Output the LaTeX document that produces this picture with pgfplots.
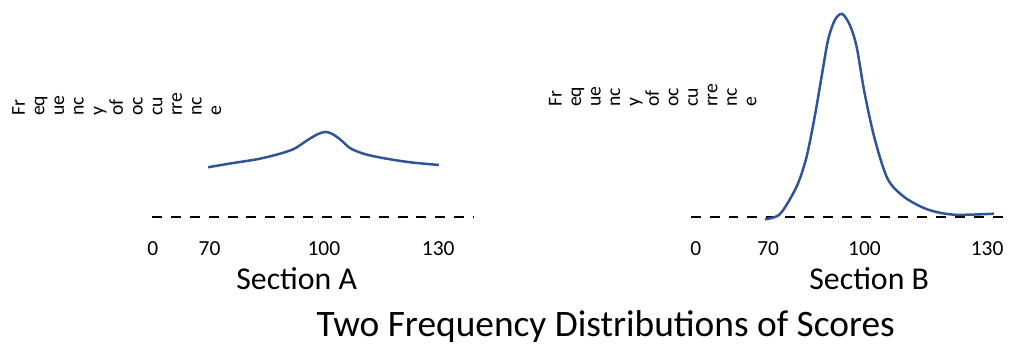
\documentclass[border=0pt]{standalone}
\usepackage{pgfplots}
\pgfplotsset{compat=1.18}
\usepackage{fontspec}
\setmainfont{Carlito}
\definecolor{curveblue}{RGB}{47,85,151}

% Left section: frequency above the baseline against score
\pgfplotstableread{
x y
69.6 50.2
75.7 54.2
82.8 58.5
88.8 64.2
92.4 69.2
95.8 77.8
98.4 83.5
100.4 85.8
102.3 83.5
104.4 77.8
107.0 69.2
110.7 63.5
115.9 59.2
122.7 55.2
130.2 52.5
}\sectionA

% Right section
\pgfplotstableread{
x y
69.7 -2.2
73.2 1.8
75.8 15.2
78.5 35.2
80.7 61.8
82.8 101.8
84.6 141.8
86.3 178.5
88.1 198.5
90.0 204.5
92.0 193.5
93.8 171.8
95.9 125.2
98.6 78.5
102.0 38.5
106.4 20.2
112.5 7.8
119.5 2.5
130.0 3.5
}\sectionB

\pgfplotsset{
  freqpanel/.style={
    anchor=south west,
    y=0.5pt, ymin=0, ymax=210,
    axis x line=bottom,
    axis y line=none,
    x axis line style={-, black, line width=1.2pt, dash pattern=on 5pt off 4.5pt},
    major tick length=0pt,
    xticklabels={0,70,100,130},
    xticklabel style={font=\fontsize{10.8}{13}\selectfont, anchor=base, yshift=-19.5pt},
    /pgf/number format/assume math mode=true,
    clip=false,
  },
}

\begin{document}
\begin{tikzpicture}
\path (0,0) rectangle (505pt,174pt);

\begin{axis}[freqpanel, at={(76.5pt,64.75pt)},
  x=1.9167pt, xmin=54.9, xmax=139.4,
  xtick={55.1,70,100,130}]
\addplot[curveblue, line width=1.25pt, smooth] table[x=x,y=y] {\sectionA};
\end{axis}

\begin{axis}[freqpanel, at={(347.5pt,64.75pt)},
  x=1.9085pt, xmin=50.1, xmax=132.6,
  xtick={51.4,70.5,95.9,128.2}]
\addplot[curveblue, line width=1.25pt, smooth] table[x=x,y=y] {\sectionB};
\end{axis}

% wrapped vertical axis titles
\foreach \t [count=\i from 0] in {Fr,eq,ue,nc,y,of,oc,cu,rre,nc,e}{
  \node[rotate=90, anchor=base west, inner sep=0pt, font=\fontsize{9.9}{12}\selectfont]
    at ({(25+19.75*\i)*0.5pt}, {(348-117)*0.5pt}) {\t};
  \node[rotate=90, anchor=base west, inner sep=0pt, font=\fontsize{9.9}{12}\selectfont]
    at ({(565+19.6*\i)*0.5pt}, {(348-108)*0.5pt}) {\t};
}

\node[anchor=base, inner sep=0pt, font=\fontsize{16}{19}\selectfont]
  at ({298.5*0.5pt}, {(348-291)*0.5pt}) {Section A};
\node[anchor=base, inner sep=0pt, font=\fontsize{16}{19}\selectfont]
  at ({874.5*0.5pt}, {(348-291)*0.5pt}) {Section B};
\node[anchor=base, inner sep=0pt, font=\fontsize{18.8}{22}\selectfont]
  at ({609.5*0.5pt}, {(348-339)*0.5pt}) {Two Frequency Distributions of Scores};
\end{tikzpicture}
\end{document}
